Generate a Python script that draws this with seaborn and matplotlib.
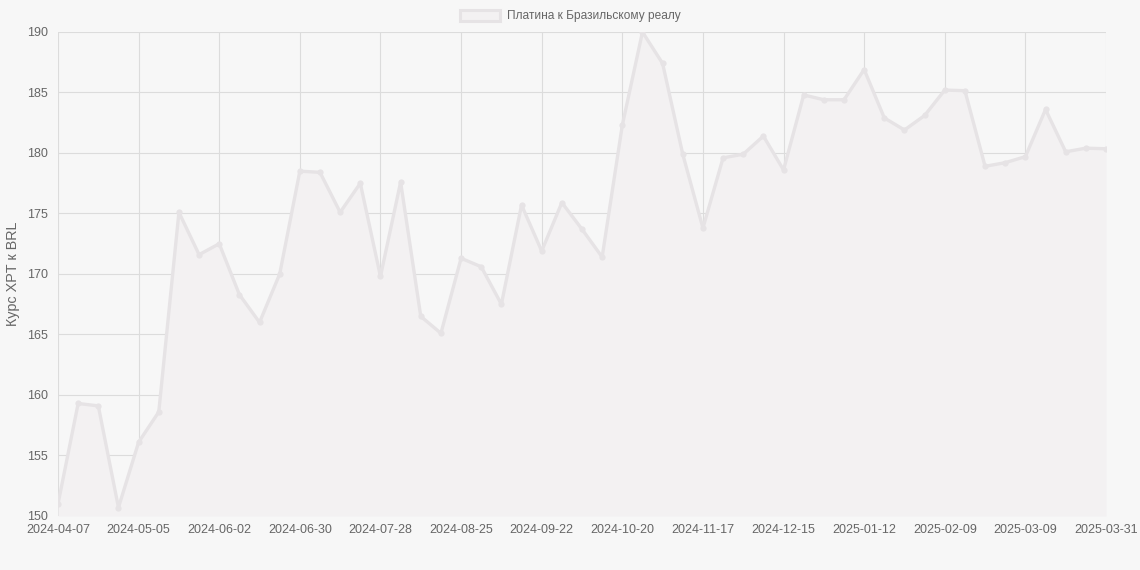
import matplotlib
matplotlib.use("Agg")
import matplotlib.pyplot as plt
import seaborn as sns
import pandas as pd
from matplotlib.patches import Patch

dates = [
    "2024-04-07", "2024-04-14", "2024-04-21", "2024-04-28", "2024-05-05", "2024-05-12",
    "2024-05-19", "2024-05-26", "2024-06-02", "2024-06-09", "2024-06-16", "2024-06-23",
    "2024-06-30", "2024-07-07", "2024-07-14", "2024-07-21", "2024-07-28", "2024-08-04",
    "2024-08-11", "2024-08-18", "2024-08-25", "2024-09-01", "2024-09-08", "2024-09-15",
    "2024-09-22", "2024-09-29", "2024-10-06", "2024-10-13", "2024-10-20", "2024-10-27",
    "2024-11-03", "2024-11-10", "2024-11-17", "2024-11-24", "2024-12-01", "2024-12-08",
    "2024-12-15", "2024-12-22", "2024-12-29", "2025-01-05", "2025-01-12", "2025-01-19",
    "2025-01-26", "2025-02-02", "2025-02-09", "2025-02-16", "2025-02-23", "2025-03-02",
    "2025-03-09", "2025-03-16", "2025-03-23", "2025-03-30", "2025-03-31",
]
rates = [
    151.0, 159.3, 159.1, 150.7, 156.1, 158.6, 175.1, 171.6, 172.5, 168.3,
    166.0, 170.0, 178.5, 178.4, 175.1, 177.5, 169.8, 177.6, 166.5, 165.1,
    171.3, 170.6, 167.5, 175.7, 171.9, 175.9, 173.7, 171.4, 182.3, 190.0,
    187.4, 179.9, 173.8, 179.6, 179.9, 181.4, 178.6, 184.8, 184.4, 184.4,
    186.9, 182.9, 181.9, 183.1, 185.2, 185.15, 178.9, 179.2, 179.7, 183.6,
    180.1, 180.4, 180.35,
]
series_name = "Платина к Бразильскому реалу"
y_label = "Курс XPT к BRL"

df = pd.DataFrame({"idx": range(len(dates)), "date": dates, "rate": rates})

sns.set_theme(style="white")
plt.rcParams["font.family"] = ["Liberation Sans", "DejaVu Sans"]

bg = "#f7f7f7"
line_c = "#e6e3e5"
fill_c = "#f3f1f2"
grid_c = "#dcdcdc"
text_c = "#666666"

fig = plt.figure(figsize=(11.4, 5.7), dpi=100, facecolor=bg)
ax = fig.add_axes([58 / 1140, 1 - 516 / 570, (1106 - 58) / 1140, (516 - 32) / 570])
ax.set_facecolor(bg)

ax.fill_between(df["idx"], df["rate"], 150, color=fill_c, zorder=1, linewidth=0)
sns.lineplot(data=df, x="idx", y="rate", ax=ax, color=line_c, linewidth=2.4,
             marker="o", markersize=4.5, markeredgewidth=0, zorder=3, legend=False)

ax.set_xlim(0, len(dates) - 1)
ax.set_ylim(150, 190)
tick_idx = list(range(0, len(dates), 4))
if tick_idx[-1] != len(dates) - 1:
    tick_idx.append(len(dates) - 1)
ax.set_xticks(tick_idx)
ax.set_xticklabels([dates[i] for i in tick_idx])
ax.set_yticks(range(150, 191, 5))

ax.grid(True, color=grid_c, linewidth=0.8, zorder=0)
ax.set_axisbelow(True)
for s in ax.spines.values():
    s.set_visible(False)
ax.tick_params(axis="both", colors=text_c, labelsize=9, length=4, color=grid_c, width=0.8)
ax.tick_params(axis="x", pad=2)
ax.tick_params(axis="y", pad=3)

ax.set_xlabel("")
ax.set_ylabel(y_label, color=text_c, fontsize=10.4, labelpad=5)

handle = Patch(facecolor=fill_c, edgecolor=line_c, linewidth=2.2, label=series_name)
leg = fig.legend(handles=[handle], loc="center", bbox_to_anchor=(0.5, 1 - 16 / 570),
                 frameon=False, fontsize=8.6, handlelength=3.4, handleheight=1.1,
                 handletextpad=0.55, borderpad=0.0)
for t in leg.get_texts():
    t.set_color(text_c)

fig.savefig("out.png", dpi=100, facecolor=bg)
